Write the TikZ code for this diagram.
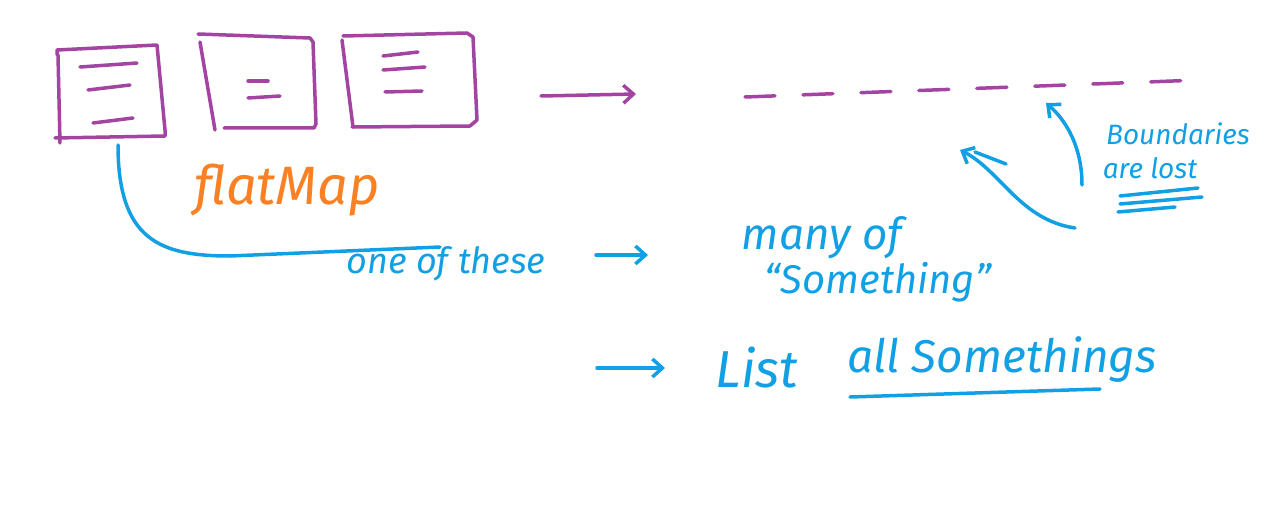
\documentclass[tikz,border=0pt]{standalone}
\usepackage{fontspec}
\setmainfont{Fira Sans}
\usetikzlibrary{arrows.meta,calc}
\definecolor{pur}{RGB}{163,68,163}
\definecolor{sky}{RGB}{18,160,228}
\definecolor{org}{RGB}{250,128,36}
\tikzset{
  pen/.style={line width=3.5pt, line cap=round, line join=round},
  purpen/.style={pen, draw=pur},
  bluepen/.style={pen, draw=sky},
  hand/.style={text=sky, font=\itshape\fontsize{34}{36}\selectfont, inner sep=0pt},
  arr/.style={-{Straight Barb[length=10pt,width=18pt]}},
}
\begin{document}
\begin{tikzpicture}[x=1pt,y=-1pt]
\useasboundingbox (0,0) rectangle (1270,508);
% box 1
\draw[purpen] (57,55) -- (57,50) -- (157,45) -- (165,130) -- (165,136) -- (55,138);
\draw[purpen] (58,55) -- (60,143);
\draw[purpen] (80,67) -- (137,63);
\draw[purpen] (88,90) -- (130,85);
\draw[purpen] (93,123) -- (133,118);
\coordinate (b1) at (118,145);
% box 2
\draw[purpen] (198,34) -- (310,38) -- (313,42) -- (316,124) -- (314,128) -- (224,128);
\draw[purpen] (200,42) -- (215,130);
\draw[purpen] (248,81) -- (268,81);
\draw[purpen] (248,98) -- (280,96);
% box 3
\draw[purpen] (343,36) -- (467,33) -- (473,37) -- (477,120) -- (470,126) -- (352,127);
\draw[purpen] (342,40) -- (353,127);
\draw[purpen] (383,56) -- (418,52);
\draw[purpen] (383,70) -- (425,67);
\draw[purpen] (385,92) -- (422,91);
% purple arrow
\coordinate (pa) at (541,96);
\coordinate (pb) at (636,94);
\draw[purpen, arr] (pa) -- (pb);
% dashed line
\coordinate (da) at (745,97);
\coordinate (db) at (1200,80);
\draw[purpen, dash pattern=on 30pt off 28pt] (da) -- (db);
% labels
\node[text=org, font=\itshape\fontsize{54}{56}\selectfont, inner sep=0pt] (flat) at (287,190) {flatMap};
\node[hand, font=\itshape\fontsize{36}{38}\selectfont] (one) at (446,264) {one of these};
\draw[bluepen] (b1) .. controls (118,240) and (160,256) .. (230,256) -- (440,247);
\coordinate (ba) at (596,255);
\coordinate (bb) at (648,255);
\draw[bluepen, arr] (ba) -- (bb);
\node[hand, font=\itshape\fontsize{44}{46}\selectfont] (many) at (822,238) {many of};
\node[hand, font=\itshape\fontsize{40}{42}\selectfont] (some) at (878,282) {“Something”};
\coordinate (la) at (597,368);
\coordinate (lb) at (665,368);
\draw[bluepen, arr] (la) -- (lb);
\node[hand, font=\itshape\fontsize{52}{54}\selectfont] (list) at (757,368) {List};
\node[hand, font=\itshape\fontsize{46}{48}\selectfont] (all) at (1002,360) {all Somethings};
\coordinate (u1) at (850,397);
\coordinate (u2) at (1100,389);
\draw[bluepen] (u1) -- (u2);
% boundaries
\node[hand, font=\itshape\fontsize{28}{30}\selectfont] (bd) at (1178,134) {Boundaries};
\node[hand, font=\itshape\fontsize{28}{30}\selectfont] (lost) at (1150,168) {are lost};
\draw[bluepen] (1120,196) -- (1198,188);
\draw[bluepen] (1120,204) -- (1202,197);
\draw[bluepen] (1118,212) -- (1175,207);
\coordinate (c1) at (1075,228);
\coordinate (c1t) at (960,150);
\draw[bluepen, arr] (c1) .. controls (1020,220) and (1000,170) .. (c1t);
\draw[bluepen] (975,152) -- (1006,164);
\coordinate (c2) at (1082,185);
\coordinate (c2t) at (1046,103);
\draw[bluepen, arr] (c2) .. controls (1082,140) and (1060,115) .. (c2t);
\end{tikzpicture}
\end{document}
